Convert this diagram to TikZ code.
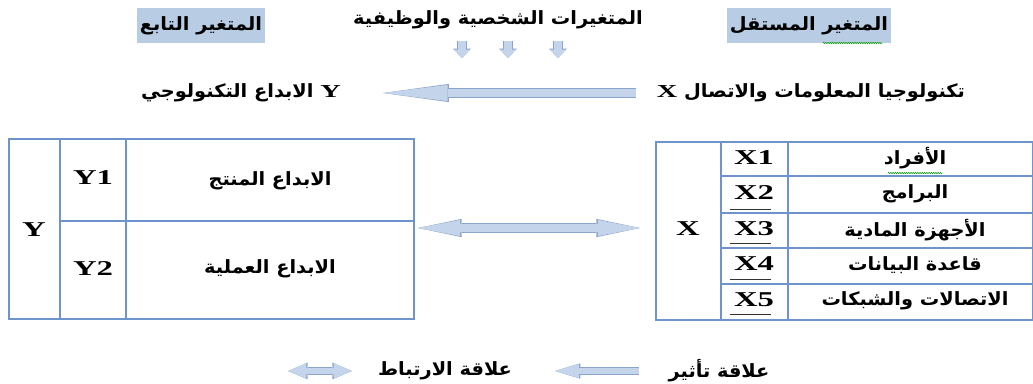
\documentclass[tikz,border=0pt]{standalone}
\usepackage{fontspec}
\usetikzlibrary{arrows.meta}
\usetikzlibrary{positioning}
\usetikzlibrary{decorations.pathmorphing}
\TeXXeTstate=1
\newfontfamily\arabicfont[Script=Arabic,FakeStretch=1.06]{DejaVu Sans}
\newfontfamily\latinfont[FakeStretch=1.55]{Liberation Serif}
\definecolor{hlblue}{RGB}{184,204,228}
\definecolor{rulecol}{RGB}{110,148,204}
\definecolor{arrowfill}{RGB}{196,212,234}
\definecolor{arrowedge}{RGB}{138,164,202}
\newcommand{\artext}[1]{{\arabicfont\bfseries\beginR #1\endR}}
\newcommand{\lat}[1]{{\latinfont\bfseries #1}}

\begin{document}
\begin{tikzpicture}[
    x=0.025cm, y=-0.025cm,
every node/.style = {inner sep=2pt, font=\fontsize{13}{15}\selectfont},
    headbox/.style = {fill=hlblue, minimum width=3.05cm, minimum height=0.875cm},
    cellrule/.style = {draw=rulecol, line width=0.9pt},
    latlabel/.style = {font=\fontsize{15}{17}\selectfont},
    bigarrow/.style = {draw=arrowfill, line width=5.4pt,
        -{Triangle[length=46pt,width=11.5pt,line width=0pt]},
        preaction={draw=arrowedge, line width=6.8pt,
        -{Triangle[length=47pt,width=13pt,line width=0pt]}}},
    bothway/.style = {draw=arrowfill, line width=5.4pt,
        {Triangle[length=30pt,width=11.5pt,line width=0pt]}-{Triangle[length=30pt,width=11.5pt,line width=0pt]},
        preaction={draw=arrowedge, line width=6.8pt,
        {Triangle[length=31pt,width=13pt,line width=0pt]}-{Triangle[length=31pt,width=13pt,line width=0pt]}}},
    smallarrow/.style = {draw=arrowfill, line width=3.8pt,
        -{Triangle[length=17pt,width=10pt,line width=0pt]},
        preaction={draw=arrowedge, line width=5pt,
        -{Triangle[length=18pt,width=11pt,line width=0pt]}}},
    smallboth/.style = {draw=arrowfill, line width=3.8pt,
        {Triangle[length=13pt,width=11pt,line width=0pt]}-{Triangle[length=13pt,width=11pt,line width=0pt]},
        preaction={draw=arrowedge, line width=5pt,
        {Triangle[length=14pt,width=12pt,line width=0pt]}-{Triangle[length=14pt,width=12pt,line width=0pt]}}},
    droparrow/.style = {draw=arrowfill, line width=5.6pt,
        -{Triangle[length=6pt,width=11.5pt,line width=0pt]},
        preaction={draw=arrowedge, line width=6.8pt,
        -{Triangle[length=6.6pt,width=12.6pt,line width=0pt]}}},
    squiggle/.style = {draw=green!60!black, line width=0.4pt,
        decorate, decoration={zigzag, amplitude=0.5pt, segment length=1.6pt}}]
\useasboundingbox (0,0) rectangle (1033,383);

% top headings
\node[headbox] (dep)   at (201,25.5) {\artext{المتغير التابع}};
\node[headbox] (indep) at (809,25.5) {\artext{المتغير المستقل}};
\node          (ctrl)  at (498,20)   {\artext{المتغيرات الشخصية والوظيفية}};
\draw[squiggle] (823,43) -- (882,43);
\foreach \x in {462,508,558}
  \draw[droparrow] (\x,41) -- (\x,58);

% main relation
\node (yvar) at (241,93) {\artext{\lat{Y} الابداع التكنولوجي}};
\node (xvar) at (811,93) {\artext{تكنولوجيا المعلومات والاتصال \lat{X}}};
\draw[bigarrow, shorten <=18pt*0.711] (xvar.west) -- ([xshift=39*0.025cm]yvar.east);

% dependent table
\draw[cellrule] (9,139) rectangle (414,319);
\draw[cellrule] (60,139) -- (60,319);
\draw[cellrule] (126,139) -- (126,319);
\draw[cellrule] (60,221) -- (414,221);
\coordinate (ytab) at (414,228);
\node[latlabel] (yall) at (34,230)  {\lat{Y}};
\node[latlabel] (y1)   at (93,178)  {\lat{Y1}};
\node[latlabel] (y2)   at (93,269)  {\lat{Y2}};
\node (y1txt) at (270,181) {\artext{الابداع المنتج}};
\node (y2txt) at (270,269) {\artext{الابداع العملية}};

% independent table
\draw[cellrule] (656,142) rectangle (1033,320);
\draw[cellrule] (721,142) -- (721,320);
\draw[cellrule] (788,142) -- (788,320);
\foreach \yy in {176,213,248,284}
  \draw[cellrule] (721,\yy) -- (1033,\yy);
\coordinate (xtab) at (656,228);
\node[latlabel] (xall) at (688,229) {\lat{X}};
\node[latlabel] (x1) at (754,158) {\lat{X1}};
\node[latlabel] (x2) at (754,193) {\lat{X2}};
\node[latlabel] (x3) at (754,229) {\lat{X3}};
\node[latlabel] (x4) at (754,264) {\lat{X4}};
\node[latlabel] (x5) at (754,300) {\lat{X5}};
\foreach \k/\yy in {2/209,3/243,4/279,5/314}
  \draw[black!80, line width=0.6pt] (730,\yy) -- (771,\yy);
\node (x1txt) at (915,158) {\artext{الأفراد}};
\node (x2txt) at (915,194) {\artext{البرامج}};
\node (x3txt) at (915,230) {\artext{الأجهزة المادية}};
\node (x4txt) at (915,265) {\artext{قاعدة البيانات}};
\node (x5txt) at (915,301) {\artext{الاتصالات والشبكات}};
\draw[squiggle] (888,173) -- (942,173);

% correlation between the two tables
\draw[bothway, shorten <=4*0.711pt, shorten >=16*0.711pt] (ytab) -- (xtab);

% legend
\node (effect) at (719,371) {\artext{علاقة تأثير}};
\coordinate (effend) at (555,371);
\draw[smallarrow, shorten <=26*0.711pt] (effect.west) -- (effend);
\node (corr) at (445,371) {\artext{علاقة الارتباط}};
\coordinate (corrend) at (288,371);
\draw[smallboth, shorten <=23*0.711pt] (corr.west) -- (corrend);
\end{tikzpicture}
\end{document}
